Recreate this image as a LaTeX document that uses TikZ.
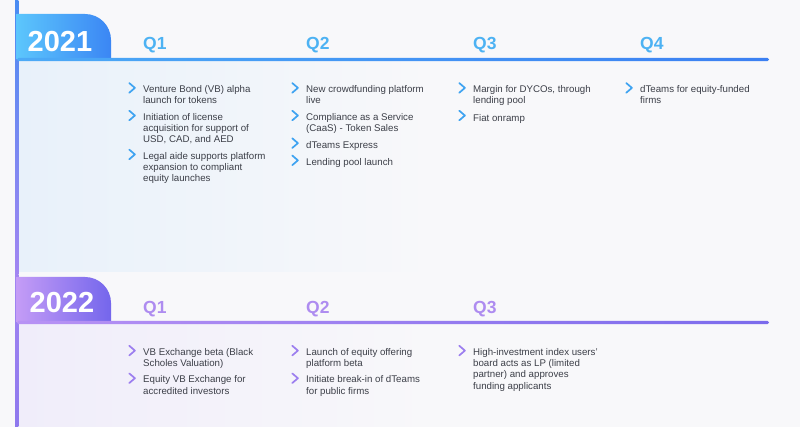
\documentclass[tikz,border=0pt]{standalone}
\usepackage{fontspec}
\setmainfont{Liberation Sans}
\usetikzlibrary{positioning}

\definecolor{bgc}{HTML}{F8F8FA}
\definecolor{txtgray}{HTML}{3C3F48}
\definecolor{tint21}{HTML}{E8F1FA}
\definecolor{tint22}{HTML}{F0EDFA}
\definecolor{qblue}{HTML}{4DB2F3}
\definecolor{qpurple}{HTML}{AE8CF0}
\definecolor{tab21L}{HTML}{5CC6FC}
\definecolor{tab21R}{HTML}{3B86F4}
\definecolor{tab22L}{HTML}{C49CF6}
\definecolor{tab22R}{HTML}{7466EC}
\definecolor{bar21L}{HTML}{4CAAF6}
\definecolor{bar21R}{HTML}{3C80F2}
\definecolor{bar22L}{HTML}{B892F4}
\definecolor{bar22R}{HTML}{7B6BEC}
\definecolor{chev21}{HTML}{3FA3F1}
\definecolor{chev22}{HTML}{9C7EEF}
\definecolor{vtop}{HTML}{4A8CF2}
\definecolor{vmid}{HTML}{A285F2}
\definecolor{vbot}{HTML}{8E78EE}

\begin{document}
\begin{tikzpicture}[
  x=1pt, y=-1pt,
  node distance=5.5pt,
  every node/.style={inner sep=0pt},
  item/.style={align=left, anchor=north west, text=txtgray,
    font=\fontsize{9.7}{11.3}\selectfont,
    execute at begin node=\strut, execute at end node=\strut},
  stack/.style={item, below=of #1.south west, anchor=north west},
  qlabel/.style={anchor=base west, font=\fontsize{17.5}{20}\selectfont\bfseries},
  year/.style={text=white, font=\fontsize{29}{32}\selectfont\bfseries},
  chev/.style={line width=1.7pt, line cap=round, line join=round}
]

% page
\fill[bgc] (0,0) rectangle (800,427);
\useasboundingbox (0,0) rectangle (800,427);

% soft tint under each year line
\shade[left color=tint21, right color=bgc] (18,61) rectangle (430,272);
\shade[left color=tint22, right color=bgc] (18,324) rectangle (430,427);

% time axis
\shade[top color=vtop, bottom color=vmid] (15,0) rectangle (18.3,275);
\shade[top color=vmid, bottom color=vbot] (15,275) rectangle (18.3,427);

% year tabs
\shade[left color=tab21L, right color=tab21R] (16.5,59.5) -- (16.5,14) -- (85,14)
  .. controls (99.4,14) and (111,25.6) .. (111,40) -- (111,59.5) -- cycle;
\shade[left color=tab22L, right color=tab22R] (16.5,322.5) -- (16.5,277) -- (85,277)
  .. controls (99.4,277) and (111,288.6) .. (111,303) -- (111,322.5) -- cycle;

% year lines
\shade[left color=bar21L, right color=bar21R, rounded corners=1.6pt] (17,57.8) rectangle (769,61.2);
\shade[left color=bar22L, right color=bar22R, rounded corners=1.6pt] (17,320.8) rectangle (769,324.2);

\node[year] (y21) at (60,41.5) {2021};
\node[year] (y22) at (62,302.5) {2022};

% 2021 quarters
\node[qlabel, text=qblue] (q21a) at (143,50) {Q1};
\node[qlabel, text=qblue] (q21b) at (306,50) {Q2};
\node[qlabel, text=qblue] (q21c) at (473,50) {Q3};
\node[qlabel, text=qblue] (q21d) at (640,50) {Q4};

\node[item] (a1) at (143,85.4) {Venture Bond (VB) alpha\\launch for tokens};
\node[stack=a1] (a2) {Initiation of license\\acquisition for support of\\USD, CAD, and AED};
\node[stack=a2] (a3) {Legal aide supports platform\\expansion to compliant\\equity launches};

\node[item] (b1) at (306,85.4) {New crowdfunding platform\\live};
\node[stack=b1] (b2) {Compliance as a Service\\(CaaS) - Token Sales};
\node[stack=b2] (b3) {dTeams Express};
\node[stack=b3] (b4) {Lending pool launch};

\node[item] (c1) at (473,85.4) {Margin for DYCOs, through\\lending pool};
\node[stack=c1] (c2) {Fiat onramp};

\node[item] (d1) at (640,85.4) {dTeams for equity-funded\\firms};

% 2022 quarters
\node[qlabel, text=qpurple] (q22a) at (143,313.5) {Q1};
\node[qlabel, text=qpurple] (q22b) at (306,313.5) {Q2};
\node[qlabel, text=qpurple] (q22c) at (473,313.5) {Q3};

\node[item] (e1) at (143,348.1) {VB Exchange beta (Black\\Scholes Valuation)};
\node[stack=e1] (e2) {Equity VB Exchange for\\accredited investors};

\node[item] (f1) at (306,348.1) {Launch of equity offering\\platform beta};
\node[stack=f1] (f2) {Initiate break-in of dTeams\\for public firms};

\node[item] (g1) at (473,348.1) {High-investment index users'\\board acts as LP (limited\\partner) and approves\\funding applicants};

% bullets
\foreach \n in {a1,a2,a3,b1,b2,b3,b4,c1,c2,d1}
  \draw[chev, chev21] ([shift={(-13.7,-2.3)}]\n.north west) -- ++(5.6,4.8) -- ++(-5.6,4.8);
\foreach \n in {e1,e2,f1,f2,g1}
  \draw[chev, chev22] ([shift={(-13.7,-2.3)}]\n.north west) -- ++(5.6,4.8) -- ++(-5.6,4.8);

\end{tikzpicture}
\end{document}
